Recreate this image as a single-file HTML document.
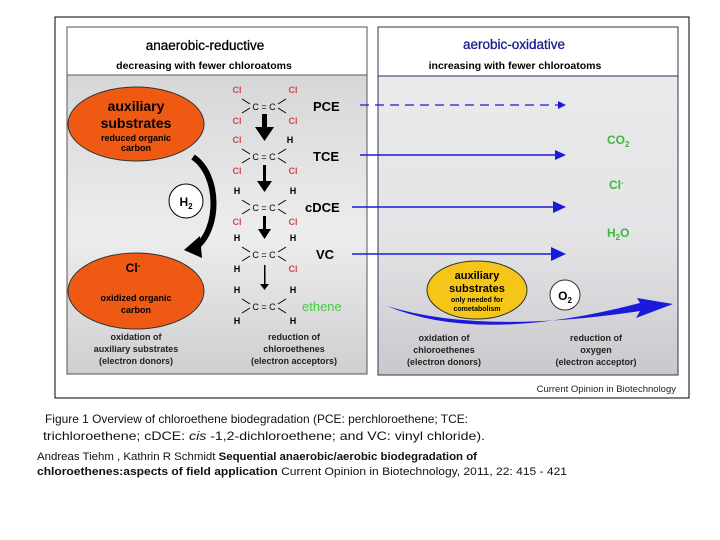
<!DOCTYPE html>
<html><head><meta charset="utf-8"><style>
body{margin:0;background:#fff;}
svg{display:block;font-family:"Liberation Sans",Arial,sans-serif;}
</style></head><body>
<svg width="720" height="540" viewBox="0 0 720 540">
<defs>
<linearGradient id="g" x1="0" y1="0" x2="0" y2="1"><stop offset="0" stop-color="#d0d0d2"/><stop offset="0.6" stop-color="#ededee"/><stop offset="1" stop-color="#cfcfd2"/></linearGradient>
<linearGradient id="g2" x1="0" y1="0" x2="0" y2="1"><stop offset="0" stop-color="#ececee"/><stop offset="0.6" stop-color="#e4e4e7"/><stop offset="1" stop-color="#c9c9cd"/></linearGradient>
</defs>
<rect x="55" y="17" width="634" height="381" fill="#fff" stroke="#000" stroke-width="1"/>
<rect x="67" y="27" width="300" height="347" fill="url(#g)" stroke="#555"/>
<rect x="67" y="27" width="300" height="48" fill="#fff" stroke="#555"/>
<text x="205" y="50" font-size="13.5" text-anchor="middle" stroke="#000" stroke-width="0.3">anaerobic-reductive</text>
<text x="204" y="69" font-size="10.5" font-weight="bold" text-anchor="middle">decreasing with fewer chloroatoms</text>
<rect x="378" y="27" width="300" height="348" fill="url(#g2)" stroke="#335"/>
<rect x="378" y="27" width="300" height="49" fill="#fff" stroke="#335"/>
<text x="514" y="49" font-size="13.5" fill="#1a1a8a" text-anchor="middle" stroke="#1a1a8a" stroke-width="0.3">aerobic-oxidative</text>
<text x="515" y="69" font-size="10.5" font-weight="bold" text-anchor="middle">increasing with fewer chloroatoms</text>
<ellipse cx="136" cy="124" rx="68" ry="37" fill="#ee5a14" stroke="#333"/>
<text x="136" y="111" font-size="14" font-weight="bold" text-anchor="middle">auxiliary</text>
<text x="136" y="128" font-size="14" font-weight="bold" text-anchor="middle">substrates</text>
<text x="136" y="141" font-size="9" font-weight="bold" text-anchor="middle">reduced organic</text>
<text x="136" y="151" font-size="9" font-weight="bold" text-anchor="middle">carbon</text>
<ellipse cx="136" cy="291" rx="68" ry="38" fill="#ee5a14" stroke="#333"/>
<text x="133" y="272" font-size="12" font-weight="bold" text-anchor="middle">Cl<tspan font-size="8" dy="-4">-</tspan></text>
<text x="136" y="301" font-size="9" font-weight="bold" text-anchor="middle">oxidized organic</text>
<text x="136" y="313" font-size="9" font-weight="bold" text-anchor="middle">carbon</text>
<path d="M193 157 C220 175 220 230 195 248" fill="none" stroke="#000" stroke-width="6"/>
<polygon points="184,250 200,236 202,258" fill="#000"/>
<circle cx="186" cy="201" r="17" fill="#fff" stroke="#000"/>
<text x="186" y="206" font-size="12" font-weight="bold" text-anchor="middle">H<tspan font-size="8" dy="3">2</tspan></text>
<g font-size="9" font-weight="bold" text-anchor="middle">
<g transform="translate(0,107)"><text x="237" y="-14" fill="#d24848">Cl</text><text x="293" y="-14" fill="#d24848">Cl</text><text x="237" y="17" fill="#d24848">Cl</text><text x="293" y="17" fill="#d24848">Cl</text></g>
<g transform="translate(0,157)"><text x="237" y="-14" fill="#d24848">Cl</text><text x="290" y="-14" fill="#000">H</text><text x="237" y="17" fill="#d24848">Cl</text><text x="293" y="17" fill="#d24848">Cl</text></g>
<g transform="translate(0,208)"><text x="237" y="-14" fill="#000">H</text><text x="293" y="-14" fill="#000">H</text><text x="237" y="17" fill="#d24848">Cl</text><text x="293" y="17" fill="#d24848">Cl</text></g>
<g transform="translate(0,255)"><text x="237" y="-14" fill="#000">H</text><text x="293" y="-14" fill="#000">H</text><text x="237" y="17" fill="#000">H</text><text x="293" y="17" fill="#d24848">Cl</text></g>
<g transform="translate(0,307)"><text x="237" y="-14" fill="#000">H</text><text x="293" y="-14" fill="#000">H</text><text x="237" y="17" fill="#000">H</text><text x="293" y="17" fill="#000">H</text></g>
</g>
<g font-size="9" text-anchor="middle">
<text x="264" y="110">C = C</text><text x="264" y="160">C = C</text><text x="264" y="211">C = C</text><text x="264" y="258">C = C</text><text x="264" y="310">C = C</text>
</g>
<g stroke="#000" stroke-width="1">
<path d="M242 99 L250 104 M286 99 L278 104 M242 113 L250 108 M286 113 L278 108"/>
<path d="M242 149 L250 154 M286 149 L278 154 M242 163 L250 158 M286 163 L278 158"/>
<path d="M242 200 L250 205 M286 200 L278 205 M242 214 L250 209 M286 214 L278 209"/>
<path d="M242 247 L250 252 M286 247 L278 252 M242 261 L250 256 M286 261 L278 256"/>
<path d="M242 299 L250 304 M286 299 L278 304 M242 313 L250 308 M286 313 L278 308"/>
</g>
<rect x="262" y="114" width="5" height="14" fill="#000"/><polygon points="255,127 274,127 264.5,141" fill="#000"/>
<rect x="263" y="165" width="3" height="17" fill="#000"/><polygon points="257,181 272,181 264.5,192" fill="#000"/>
<rect x="263" y="216" width="3" height="14" fill="#000"/><polygon points="258,229 271,229 264.5,239" fill="#000"/>
<rect x="264" y="265" width="1.5" height="20" fill="#000"/><polygon points="260,284 269,284 264.5,290" fill="#000"/>
<g font-size="13" font-weight="bold">
<text x="313" y="111">PCE</text><text x="313" y="161">TCE</text><text x="305" y="212">cDCE</text><text x="316" y="259">VC</text>
</g>
<text x="302" y="311" font-size="13" fill="#44cc44">ethene</text>
<g font-size="9" font-weight="bold" text-anchor="middle" fill="#222">
<text x="136" y="340">oxidation of</text><text x="136" y="352">auxiliary substrates</text><text x="136" y="364">(electron donors)</text>
<text x="294" y="340">reduction of</text><text x="294" y="352">chloroethenes</text><text x="294" y="364">(electron acceptors)</text>
<text x="444" y="341">oxidation of</text><text x="444" y="353">chloroethenes</text><text x="444" y="365">(electron donors)</text>
<text x="596" y="341">reduction of</text><text x="596" y="353">oxygen</text><text x="596" y="365">(electron acceptor)</text>
</g>
<line x1="360" y1="105" x2="558" y2="105" stroke="#1a1adc" stroke-width="1.3" stroke-dasharray="9,6"/>
<polygon points="558,101 566,105 558,109" fill="#1a1adc"/>
<line x1="360" y1="155" x2="556" y2="155" stroke="#1a1adc" stroke-width="1.5"/>
<polygon points="555,150 566,155 555,160" fill="#1a1adc"/>
<line x1="352" y1="207" x2="554" y2="207" stroke="#1a1adc" stroke-width="1.5"/>
<polygon points="553,201 566,207 553,213" fill="#1a1adc"/>
<line x1="352" y1="254" x2="552" y2="254" stroke="#1a1adc" stroke-width="1.5"/>
<polygon points="551,247 566,254 551,261" fill="#1a1adc"/>
<g font-size="12" font-weight="bold" fill="#3cb83c">
<text x="607" y="144">CO<tspan font-size="8" dy="3">2</tspan></text>
<text x="609" y="189">Cl<tspan font-size="8" dy="-4">-</tspan></text>
<text x="607" y="237">H<tspan font-size="8" dy="3">2</tspan><tspan dy="-3">O</tspan></text>
</g>
<path d="M387 306 Q480 345 640 303 L637 298 L673 304 L636 318 L640 311 Q480 335 387 306 Z" fill="#1a1adc"/>
<ellipse cx="477" cy="290" rx="50" ry="29" fill="#f5c518" stroke="#333"/>
<text x="477" y="279" font-size="11" font-weight="bold" text-anchor="middle">auxiliary</text>
<text x="477" y="292" font-size="11" font-weight="bold" text-anchor="middle">substrates</text>
<text x="477" y="302" font-size="7" font-weight="bold" text-anchor="middle">only needed for</text>
<text x="477" y="311" font-size="7" font-weight="bold" text-anchor="middle">cometabolism</text>
<circle cx="565" cy="295" r="15" fill="#fff" stroke="#333"/>
<text x="565" y="300" font-size="12" font-weight="bold" text-anchor="middle">O<tspan font-size="8" dy="3">2</tspan></text>
<text x="676" y="392" font-size="9.5" text-anchor="end" fill="#222">Current Opinion in Biotechnology</text>
<g font-size="12" fill="#111">
<text x="45" y="423" textLength="423" lengthAdjust="spacingAndGlyphs">Figure 1   Overview of chloroethene biodegradation (PCE: perchloroethene; TCE:</text>
<text x="43" y="440" textLength="442" lengthAdjust="spacingAndGlyphs">trichloroethene; cDCE:   <tspan font-style="italic">cis</tspan> -1,2-dichloroethene; and VC: vinyl chloride).</text>
</g>
<g font-size="11" fill="#111">
<text x="37" y="460" textLength="440" lengthAdjust="spacingAndGlyphs">Andreas  Tiehm , Kathrin R  Schmidt <tspan font-weight="bold">Sequential anaerobic/aerobic biodegradation of</tspan></text>
<text x="37" y="475" textLength="530" lengthAdjust="spacingAndGlyphs"><tspan font-weight="bold">chloroethenes:aspects of field application</tspan> Current Opinion in Biotechnology, 2011, 22: 415 - 421</text>
</g>
</svg>
</body></html>
